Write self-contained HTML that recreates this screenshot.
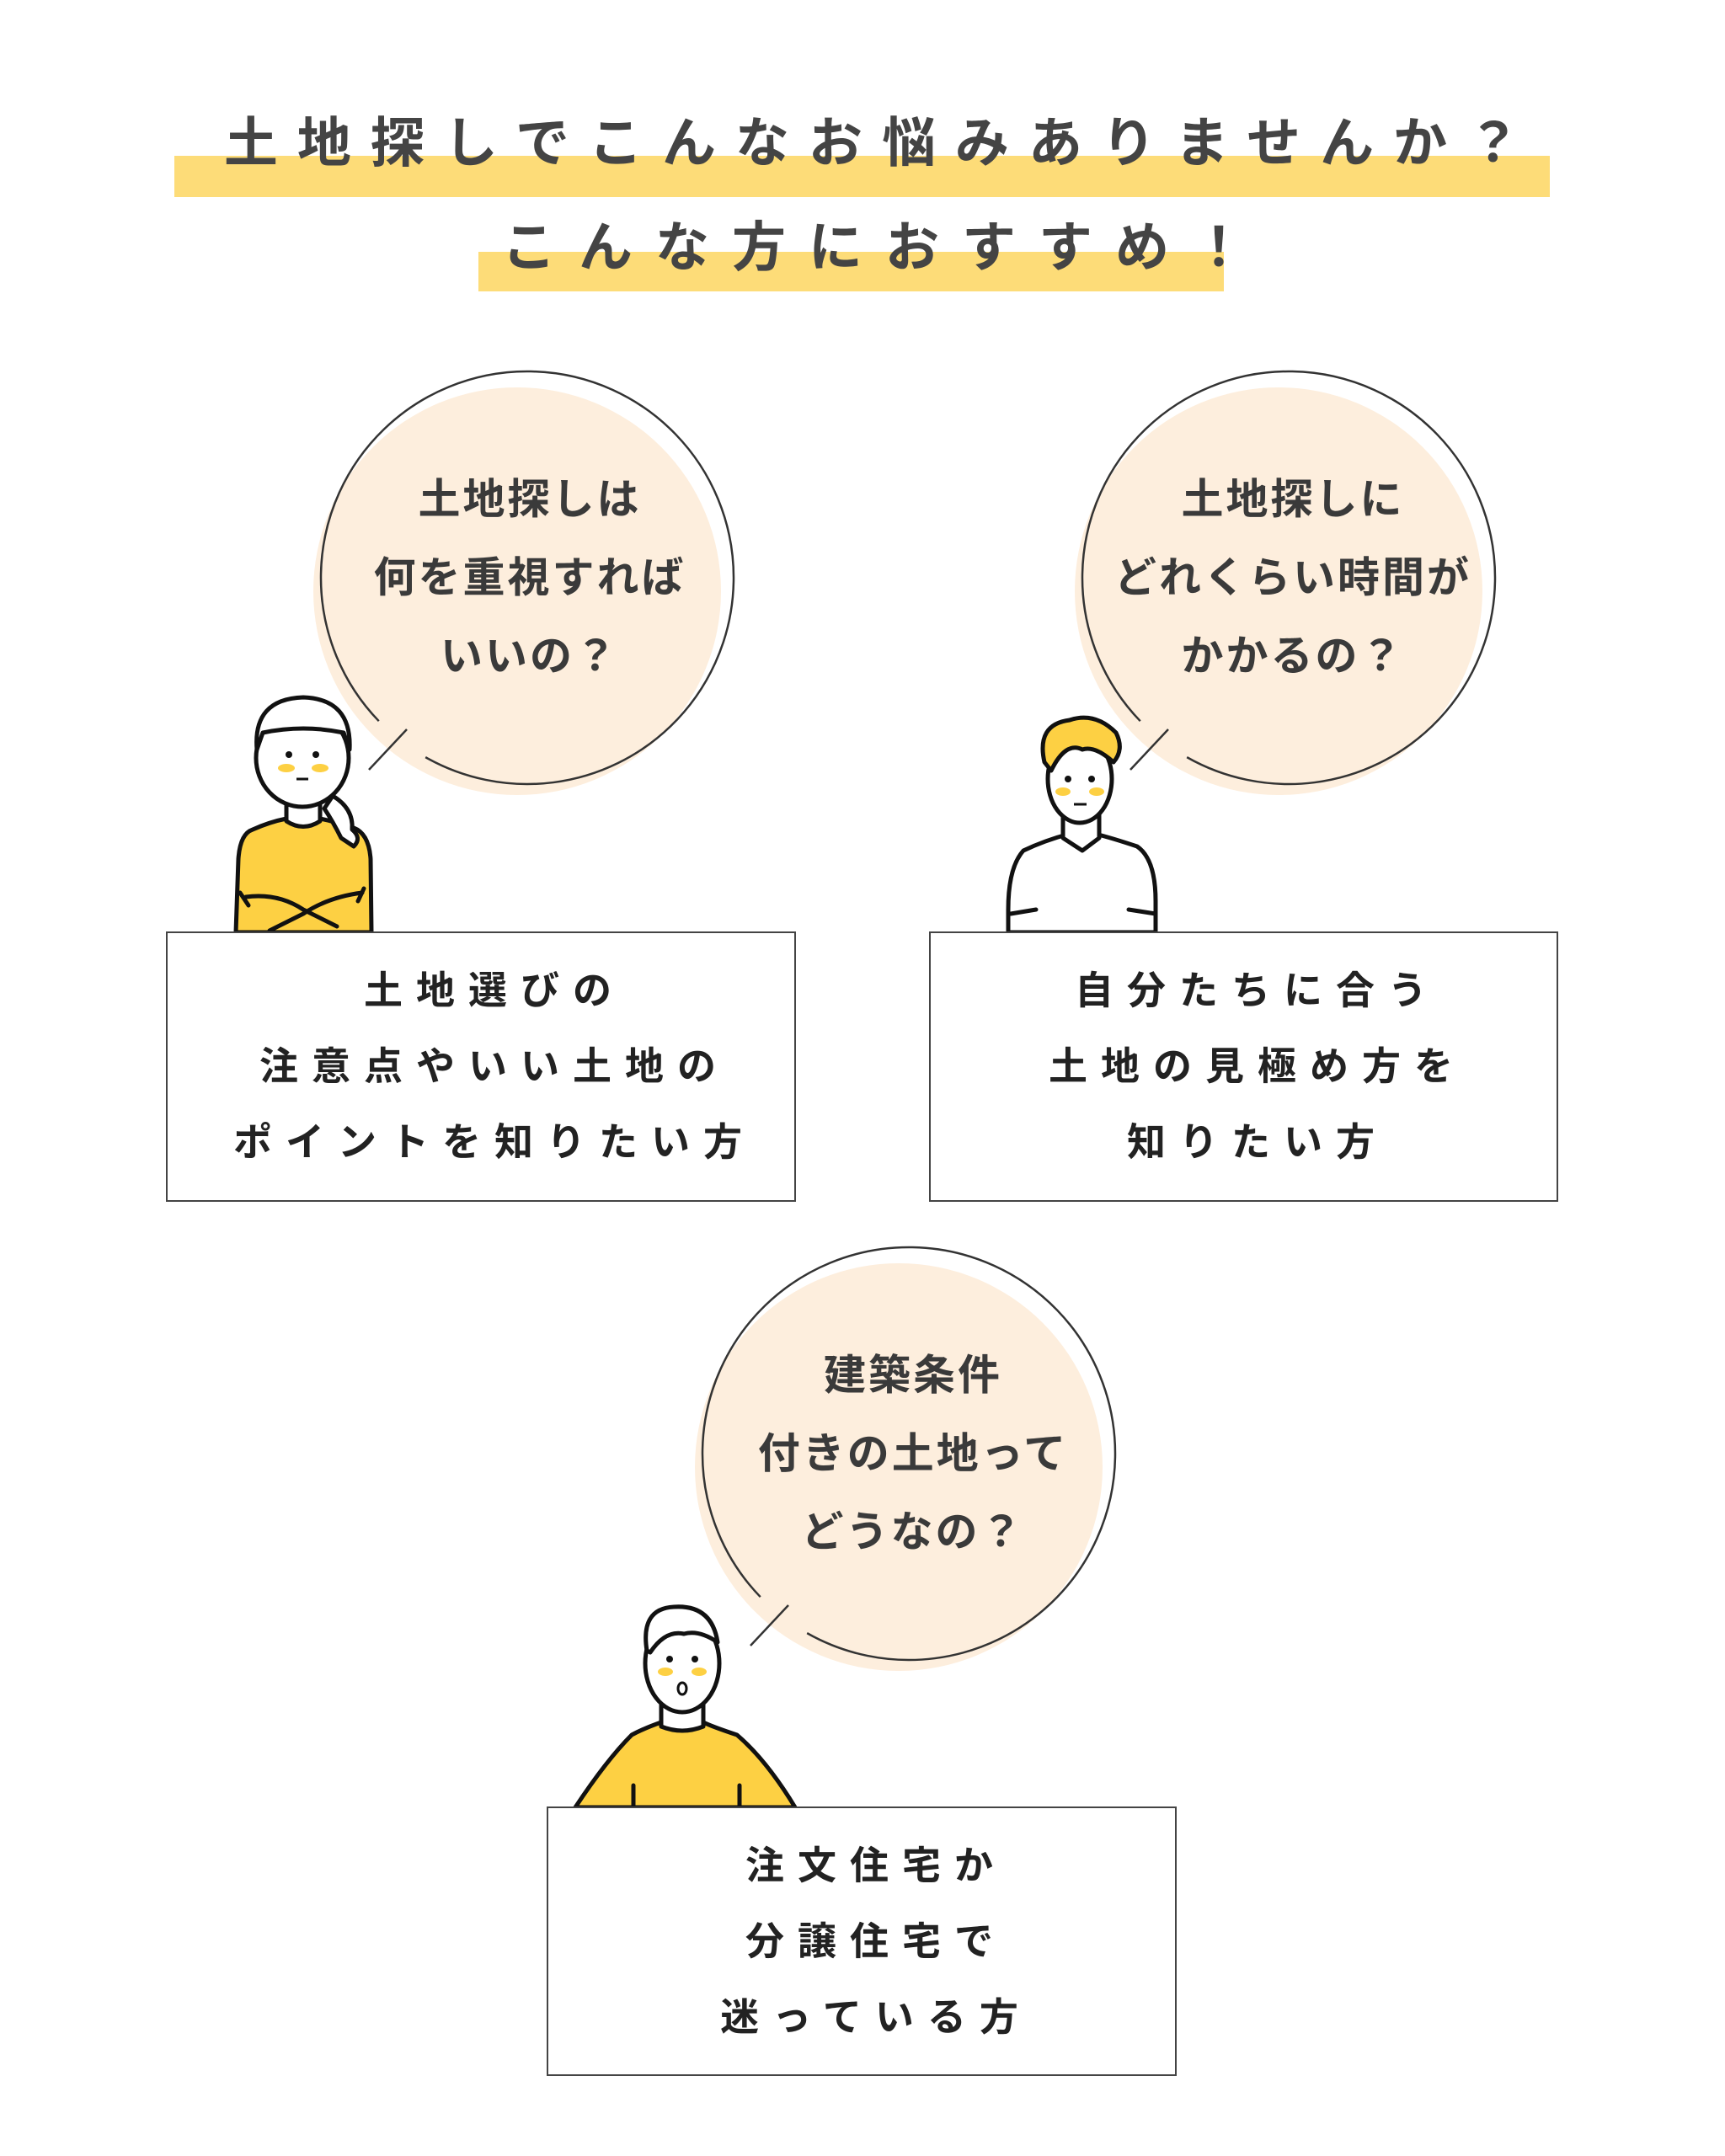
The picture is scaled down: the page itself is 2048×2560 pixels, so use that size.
<!DOCTYPE html>
<html><head><meta charset="utf-8">
<style>
html,body{margin:0;padding:0;background:#fff;}
#c{position:relative;width:2048px;height:2560px;overflow:hidden;font-family:"Liberation Sans","Noto Sans CJK JP",sans-serif;font-weight:700;}
svg{position:absolute;left:0;top:0;}
.t{position:absolute;left:0;width:2048px;text-align:center;white-space:nowrap;line-height:1;}
.h{font-size:64px;color:#444;}
.c{font-size:50px;color:#3a3a3a;letter-spacing:3px;}
.b{font-size:46px;color:#222;letter-spacing:16px;}
</style></head><body><div id="c">
<svg width="2048" height="2560" viewBox="0 0 2048 2560">
<rect x="207" y="185" width="1633" height="49" fill="#fddc78"/>
<rect x="568" y="299" width="885" height="47" fill="#fddc78"/>
<circle cx="614" cy="702" r="242" fill="#fdeedd"/>
<circle cx="1518" cy="702" r="242" fill="#fdeedd"/>
<circle cx="1067" cy="1742" r="242" fill="#fdeedd"/>
<g fill="none" stroke="#333" stroke-width="2.5" stroke-dasharray="1468.8 70.6">
<circle cx="626" cy="686" r="245" transform="rotate(136 626 686)"/>
<circle cx="1530" cy="686" r="245" transform="rotate(136 1530 686)"/>
<circle cx="1079" cy="1726" r="245" transform="rotate(136 1079 1726)"/>
</g>
<g stroke="#333" stroke-width="2.5">
<line x1="438" y1="914" x2="483" y2="866"/>
<line x1="1342" y1="914" x2="1387" y2="866"/>
<line x1="891" y1="1954" x2="936" y2="1906"/>
</g>
<!-- person1 woman -->
<g stroke="#111" stroke-width="5" stroke-linejoin="round" stroke-linecap="round">
<path d="M300 985 Q285 990 283 1020 L280 1107 L441 1107 L440 1020 Q438 990 420 983 Q395 975 380 972 Q360 985 340 972 Q320 976 300 985Z" fill="#fdd043"/>
<path d="M395 945 Q420 960 418 985 Q430 995 420 1005 L405 995 Q395 975 385 960Z" fill="#fff"/>
<path d="M340 940 L340 975 Q360 988 380 975 L380 940Z" fill="#fff"/>
<ellipse cx="359" cy="900" rx="55" ry="58" fill="#fff"/>
<path d="M305 890 Q300 830 360 828 Q418 830 415 890 L408 870 Q360 860 312 870Z" fill="#fff"/>
<path d="M292 1065 Q330 1060 360 1080 L400 1100 M430 1060 Q390 1065 360 1085 L320 1105" fill="none"/>
<path d="M285 1060 L295 1075 M432 1055 L425 1070" fill="none"/>
</g>
<ellipse cx="340" cy="912" rx="10" ry="5" fill="#fdd043"/><ellipse cx="380" cy="912" rx="10" ry="5" fill="#fdd043"/>
<circle cx="343" cy="896" r="4" fill="#111"/><circle cx="375" cy="896" r="4" fill="#111"/>
<line x1="352" y1="925" x2="366" y2="925" stroke="#111" stroke-width="3"/>
<!-- person2 -->
<g stroke="#111" stroke-width="5" stroke-linejoin="round" stroke-linecap="round">
<path d="M1215 1010 Q1197 1030 1197 1080 L1197 1107 L1372 1107 L1372 1070 Q1372 1020 1350 1005 Q1320 995 1300 990 L1285 1005 L1270 990 Q1240 998 1215 1010Z" fill="#fff"/>
<path d="M1262 965 L1262 995 L1285 1010 L1305 995 L1305 965Z" fill="#fff"/>
<ellipse cx="1282" cy="925" rx="38" ry="52" fill="#fff"/>
<path d="M1240 905 Q1230 860 1270 855 Q1300 845 1325 870 Q1335 890 1322 905 Q1300 885 1285 890 Q1265 880 1248 915Z" fill="#fdd043"/>
<path d="M1200 1085 L1230 1080 M1372 1085 L1340 1080" fill="none"/>
</g>
<ellipse cx="1262" cy="940" rx="9" ry="5" fill="#fdd043"/><ellipse cx="1302" cy="940" rx="9" ry="5" fill="#fdd043"/>
<circle cx="1268" cy="925" r="4" fill="#111"/><circle cx="1296" cy="925" r="4" fill="#111"/>
<line x1="1275" y1="955" x2="1290" y2="955" stroke="#111" stroke-width="3"/>
<!-- person3 -->
<g stroke="#111" stroke-width="5" stroke-linejoin="round" stroke-linecap="round">
<path d="M750 2060 Q720 2090 683 2146 L944 2146 Q910 2090 875 2060 Q845 2050 835 2045 L810 2055 L785 2045 Q765 2052 750 2060Z" fill="#fdd043"/>
<path d="M785 2010 L785 2050 Q810 2060 835 2050 L835 2010Z" fill="#fff"/>
<ellipse cx="810" cy="1975" rx="44" ry="58" fill="#fff"/>
<path d="M768 1960 Q760 1910 800 1908 Q845 1905 852 1950 Q830 1935 812 1940 Q790 1935 772 1962Z" fill="#fff"/>
<line x1="752" y1="2120" x2="752" y2="2146"/><line x1="878" y1="2120" x2="878" y2="2146"/>
</g>
<ellipse cx="790" cy="1985" rx="9" ry="5" fill="#fdd043"/><ellipse cx="830" cy="1985" rx="9" ry="5" fill="#fdd043"/>
<circle cx="795" cy="1970" r="4" fill="#111"/><circle cx="825" cy="1970" r="4" fill="#111"/>
<ellipse cx="810" cy="2005" rx="5" ry="7" fill="none" stroke="#111" stroke-width="3"/>
<g fill="#fff" stroke="#444" stroke-width="2">
<rect x="198" y="1107" width="746" height="319"/>
<rect x="1104" y="1107" width="745" height="319"/>
<rect x="650" y="2146" width="746" height="318"/>
</g>
</svg>
<div class="t h" style="top:138px;letter-spacing:23px;padding-left:23px;">土地探しでこんなお悩みありませんか？</div>
<div class="t h" style="top:262px;letter-spacing:27px;padding-left:27px;">こんな方におすすめ！</div>

<div class="t c" style="top:568px;left:-395px;">土地探しは</div>
<div class="t c" style="top:661px;left:-395px;">何を重視すれば</div>
<div class="t c" style="top:754px;left:-395px;">いいの？</div>

<div class="t c" style="top:568px;left:511px;">土地探しに</div>
<div class="t c" style="top:661px;left:511px;">どれくらい時間が</div>
<div class="t c" style="top:754px;left:511px;">かかるの？</div>

<div class="t c" style="top:1608px;left:60px;">建築条件</div>
<div class="t c" style="top:1701px;left:60px;">付きの土地って</div>
<div class="t c" style="top:1794px;left:60px;">どうなの？</div>

<div class="t b" style="top:1153px;left:-453px;padding-left:16px;">土地選びの</div>
<div class="t b" style="top:1243px;left:-453px;padding-left:16px;">注意点やいい土地の</div>
<div class="t b" style="top:1333px;left:-453px;padding-left:16px;">ポイントを知りたい方</div>

<div class="t b" style="top:1153px;left:453px;padding-left:16px;">自分たちに合う</div>
<div class="t b" style="top:1243px;left:453px;padding-left:16px;">土地の見極め方を</div>
<div class="t b" style="top:1333px;left:453px;padding-left:16px;">知りたい方</div>

<div class="t b" style="top:2192px;left:0px;padding-left:16px;">注文住宅か</div>
<div class="t b" style="top:2282px;left:0px;padding-left:16px;">分譲住宅で</div>
<div class="t b" style="top:2372px;left:0px;padding-left:16px;">迷っている方</div>
</div></body></html>
